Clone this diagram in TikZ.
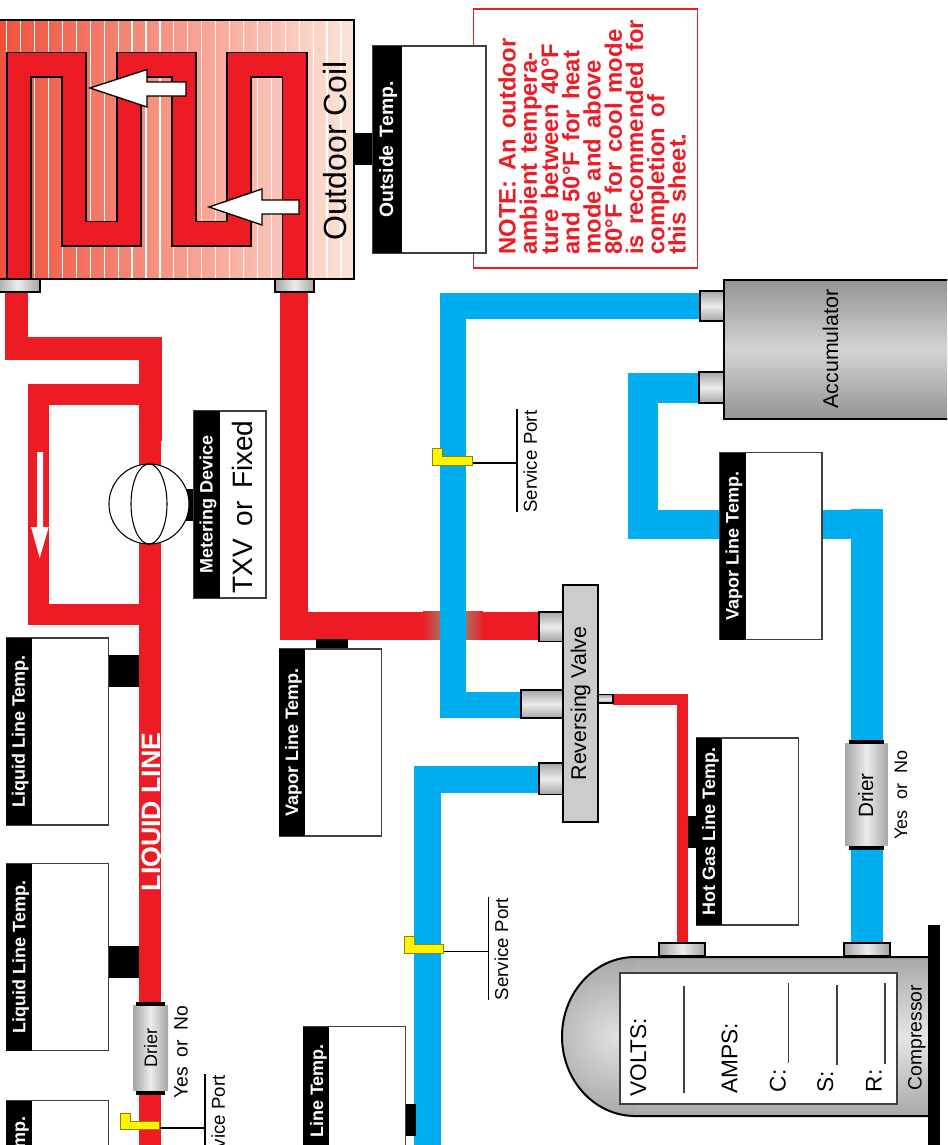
\documentclass[tikz,border=0pt]{standalone}
\usepackage{fontspec}
\setmainfont{Liberation Sans}
\newfontfamily\notefont[WordSpace=1.5]{Liberation Sans}
\definecolor{linered}{RGB}{237,28,36}
\definecolor{lineblue}{RGB}{0,174,239}
\definecolor{portyellow}{RGB}{255,242,0}
\definecolor{coilwarm}{RGB}{240,78,56}
\definecolor{coilcool}{RGB}{252,228,216}
\definecolor{crossfade}{RGB}{170,115,100}
\definecolor{fitedge}{RGB}{165,165,165}
\definecolor{fitmid}{RGB}{236,236,236}
\usetikzlibrary{calc}
\setlength{\lineskiplimit}{-20pt}
\tikzset{
  redpipe/.style={draw=linered, line width=#1*0.75pt},
  bluepipe/.style={draw=lineblue, line width=#1*0.75pt},
  templink/.style={draw=black, line width=24pt},
  tempbox/.style={rectangle, draw=black!75, line width=0.8pt, fill=white, inner sep=0pt, minimum width=76.5pt, minimum height=140.25pt},
  tempstripe/.style={rectangle, rotate=90, fill=black, text=white, inner sep=0pt, anchor=north, minimum height=19.5pt, minimum width=140.25pt, text height=10.5pt, text depth=1.5pt, font=\bfseries\fontsize{13.5}{15}\selectfont},
  templabel/.style={rotate=90, text=white, inner sep=0pt, font=\bfseries\fontsize{13.5}{15}\selectfont},
  fitacross/.style={draw=black, line width=1pt, left color=fitedge, right color=fitedge, middle color=fitmid},
  fitalong/.style={draw=black, line width=1pt, top color=fitedge, bottom color=fitedge, middle color=fitmid},
  flowarrow/.style={draw=black, line width=1pt, fill=white},
  portbody/.style={draw=portyellow!55!black, line width=0.7pt, fill=portyellow},
  portline/.style={draw=black, line width=1.1pt},
  caption/.style={rotate=90, inner sep=0pt, anchor=base},
  readline/.style={draw=black!75, line width=0.8pt},
  endcap/.style={draw=black, line width=3pt}
}

\begin{document}
\begin{tikzpicture}[x=0.75pt, y=-0.75pt, line join=miter]
  \useasboundingbox (0,0) rectangle (947,1145);
  \clip (0,0) rectangle (947,1145);

  % pipe ends
  \coordinate (coilinlet) at (16,285);
  \coordinate (coiloutlet) at (294,285);
  \coordinate (meterin) at (150.5,441);
  \coordinate (liquidend) at (150,1150);
  \coordinate (loopsplit) at (150,394);
  \coordinate (loopjoin) at (150,614);
  \coordinate (valvered) at (540,625.5);
  \coordinate (valvemid) at (522,704.5);
  \coordinate (valvelow) at (540,779);
  \coordinate (valvehot) at (613,699);
  \coordinate (accumout) at (701,305.5);
  \coordinate (accumin) at (700,388);
  \coordinate (suctionturn) at (867,524.5);
  \coordinate (compin) at (867,943);
  \coordinate (compout) at (682,943);

  % red lines
  \draw[redpipe=23] (coilinlet) |- (150.5,348.5) -- (meterin);
  \draw[redpipe=21] (loopsplit) -| (38.5,614) -- (loopjoin);
  \draw[redpipe=22] (150,441) -- (liquidend);
  \draw[redpipe=28] (coiloutlet) |- (valvered);
  \shade[left color=linered, right color=crossfade] (423,611.5) rectangle (441,639.5);
  \shade[left color=crossfade, right color=linered] (465,611.5) rectangle (483,639.5);
  \draw[redpipe=11] (valvehot) -| (compout);

  % blue lines
  \draw[bluepipe=26] (accumout) -| (453,704.5) -- (valvemid);
  \draw[bluepipe=27] (valvelow) -| (427.5,1150);
  \draw[bluepipe=29.5] (accumin) -| (643,524.5) -- (suctionturn);
  \draw[bluepipe=32] (867,509) -- (compin);

  % small arrow on the liquid loop
  \fill[white] (37,452) -- (43,452) -- (43,527) -- (48.7,527) -- (39.7,558) -- (31,527) -- (37,527) -- cycle;

  % outdoor coil
  \draw[line width=1.1pt, left color=coilwarm, right color=coilcool] (-5,20) rectangle (354,279);
  \foreach \fin in {0,...,24}
    \draw[white, line width=0.9pt] ({6.7+13.93*\fin},21) -- ++(0,257);
  \draw[black, line width=19.5pt] (19,279) -- (19,64.7) -- (74,64.7) -- (74,233.5) -- (129,233.5) -- (129,64.7) -- (184,64.7) -- (184,233.5) -- (239,233.5) -- (239,64.7) -- (294.5,64.7) -- (294.5,279);
  \draw[linered, line width=17.2pt] (19,279) -- (19,64.7) -- (74,64.7) -- (74,233.5) -- (129,233.5) -- (129,64.7) -- (184,64.7) -- (184,233.5) -- (239,233.5) -- (239,64.7) -- (294.5,64.7) -- (294.5,279);
  \draw[flowarrow] (90,88) -- (147,69.5) -- (147,82) -- (186,82) -- (186,96) -- (147,96) -- (147,107) -- cycle;
  \draw[flowarrow] (209,207) -- (262,189) -- (262,200) -- (299,200) -- (299,214) -- (262,214) -- (262,225) -- cycle;
  \node[caption, font=\fontsize{24}{26}\selectfont] (coillabel) at (346.7,151) {Outdoor Coil};
  \draw[fitacross] (-5,279) rectangle (40,292);
  \draw[fitacross] (275,279) rectangle (314,292);

  % note
  \draw[linered, line width=1.4pt] (473.5,9) rectangle (697.5,268);
  \node[rotate=90, inner sep=0pt, anchor=north west, align=left, text=linered, font=\notefont\bfseries\fontsize{17.9}{15.94}\selectfont] (notetext) at (498,255) {NOTE: An outdoor\\ambient tempera-\\ture between 40°F\\and 50°F for heat\\mode and above\\80°F for cool mode\\is recommended for\\completion of\\this sheet.};

  % outside temp
  \node[tempbox, minimum width=84.75pt, minimum height=155.25pt] (outsidebox) at (429.5,149.5) {};
  \node[tempstripe, minimum height=21.75pt, minimum width=155.25pt, font=\bfseries\fontsize{14.5}{15}\selectfont] (outsidestripe) at (outsidebox.west) {Outside\hspace{.15em} Temp.};
  \coordinate (coilside) at (354,149);
  \draw[templink] (coilside) -- (coilside -| outsidebox.west);

  % metering device
  \coordinate (metertap) at (180,505);
  \node[tempbox, minimum width=54pt] (meterbox) at (230,504.5) {};
  \node[tempstripe] (meterstripe) at (meterbox.west) {Metering Device};
  \draw[templink] (metertap) -- (metertap -| meterbox.west);
  \node[circle, draw=black, line width=0.8pt, fill=white, inner sep=0pt, minimum size=60pt] (meter) at (149,504) {};
  \draw[black, line width=0.8pt] (meter.center) ellipse [x radius=18, y radius=40];
  \node[caption, font=\fontsize{21}{23}\selectfont] (metertype) at (252.7,507) {TXV\hspace{.45em}or\hspace{.45em}Fixed};

  % liquid line
  \node[tempbox] (liquidboxa) at (57.25,731.5) {};
  \node[tempstripe] (liquidstripea) at (liquidboxa.west) {Liquid Line Temp.};
  \coordinate (liquidtapa) at (139,670.5);
  \draw[templink] (liquidtapa) -- (liquidtapa -| liquidboxa.east);
  \node[tempbox] (liquidboxb) at (57.7,957) {};
  \node[tempstripe] (liquidstripeb) at (liquidboxb.west) {Liquid Line Temp.};
  \coordinate (liquidtapb) at (139,962.3);
  \draw[templink] (liquidtapb) -- (liquidtapb -| liquidboxb.east);
  \node[tempbox] (liquidboxc) at (57.7,1194) {};
  \node[tempstripe] (liquidstripec) at (liquidboxc.west) {};
  \node[templabel, anchor=base east] (liquidlabelc) at (25,1116.7) {mp.};
  \node[caption, text=white, font=\bfseries\fontsize{20}{22}\selectfont] (liquidname) at (160,812) {LIQUID LINE};

  % liquid drier
  \draw[fitacross, draw=none] (133,1005.7) rectangle (168,1090.7);
  \draw[endcap] (136,1004.3) -- (165,1004.3);
  \draw[endcap] (136,1092.7) -- (165,1092.7);
  \node[caption, font=\fontsize{13.5}{15}\selectfont] (drierleft) at (157,1048) {Drier};
  \node[caption, font=\fontsize{14.5}{16}\selectfont] (optionleft) at (187.6,1052) {Yes\hspace{.5em}or\hspace{.5em}No};

  % service ports
  \coordinate (portastem) at (159.6,1128);
  \coordinate (portabar) at (205,1128);
  \draw[portline] (portastem) -- (portabar);
  \draw[portline] (205,1074) -- (205,1150);
  \draw[portbody] (120.7,1113) -- (130,1113) -- (130,1121) -- (159.6,1121) -- (159.6,1129) -- (120.7,1129) -- cycle;
  \node[caption, anchor=base east, font=\fontsize{14}{16}\selectfont] (portatext) at (224.8,1075) {vice\hspace{.3em}Port};

  \coordinate (portbstem) at (443.5,951.7);
  \coordinate (portbbar) at (488.5,951.7);
  \draw[portline] (portbstem) -- (portbbar);
  \draw[portline] (488.5,897) -- (488.5,1000);
  \draw[portbody] (404,936.7) -- (414,936.7) -- (414,944.3) -- (443.5,944.3) -- (443.5,953.3) -- (404,953.3) -- cycle;
  \node[caption, font=\fontsize{14}{16}\selectfont] (portbtext) at (508,949) {Service\hspace{.3em}Port};

  \coordinate (portcstem) at (472,463);
  \coordinate (portcbar) at (517,463);
  \draw[portline] (portcstem) -- (portcbar);
  \draw[portline] (517,409) -- (517,512);
  \draw[portbody] (432.4,448) -- (442,448) -- (442,456) -- (472,456) -- (472,465) -- (432.4,465) -- cycle;
  \node[caption, font=\fontsize{14}{16}\selectfont] (portctext) at (536.8,461.7) {Service\hspace{.3em}Port};

  % vapor line boxes
  \node[tempbox] (vaporboxa) at (330.3,742.5) {};
  \node[tempstripe] (vaporstripea) at (vaporboxa.west) {Vapor Line Temp.};
  \coordinate (vaportapa) at (332,639);
  \draw[templink] (vaportapa) -- (vaportapa |- vaporboxa.north);
  \node[tempbox] (vaporboxb) at (354.6,1120) {};
  \node[tempstripe] (vaporstripeb) at (vaporboxb.west) {};
  \node[templabel, anchor=base east] (vaporlabelb) at (323,1044) {Line Temp.};
  \coordinate (vaportapb) at (415.5,1119.7);
  \draw[templink] (vaportapb) -- (vaportapb -| vaporboxb.east);
  \node[tempbox] (vaporboxc) at (771,546) {};
  \node[tempstripe] (vaporstripec) at (vaporboxc.west) {Vapor Line Temp.};

  % accumulator
  \draw[fitalong] (700,291) rectangle (724,321);
  \draw[fitalong] (699,372) rectangle (724,403);
  \draw[black, line width=1.5pt, top color=black!42, bottom color=black!42, middle color=black!17] (724,280) rectangle (960,419);
  \node[caption, font=\fontsize{16}{18}\selectfont] (accumlabel) at (838,349) {Accumulator};

  % reversing valve
  \draw[fitalong] (539,612) rectangle (563,641.5);
  \draw[fitalong] (521,690) rectangle (563,718);
  \draw[fitalong] (539,763) rectangle (563,794.5);
  \draw[fitalong] (597.7,694.7) rectangle (613,703);
  \node[rectangle, rotate=90, draw=black, line width=1.5pt, fill=black!20, inner sep=0pt, minimum width=177.75pt, minimum height=26pt, font=\fontsize{16}{18}\selectfont] (valve) at (580.5,703.4) {Reversing Valve};

  % hot gas
  \node[tempbox] (hotbox) at (747.3,831.5) {};
  \node[tempstripe] (hotstripe) at (hotbox.west) {Hot Gas Line Temp.};
  \coordinate (hottap) at (687.7,831.6);
  \draw[templink] (hottap) -- (hottap -| hotbox.west);

  % suction drier
  \draw[fitacross, draw=none] (845,743.5) rectangle (887.7,845.8);
  \draw[endcap] (849,741.8) -- (884,741.8);
  \draw[endcap] (849,848) -- (884,848);
  \node[caption, font=\fontsize{15.5}{17}\selectfont] (drierright) at (873,795.5) {Drier};
  \node[caption, font=\fontsize{13.5}{15}\selectfont] (optionright) at (907,795) {Yes\hspace{.6em}or\hspace{.6em}No};

  % compressor
  \begin{scope}
    \clip (940,957) -- (635,957) arc [start angle=-90, delta angle=-180, x radius=73, y radius=79.5] -- (940,1116) -- cycle;
    \shade[inner color=black!12, outer color=black!36] (615,1037) circle [radius=85];
    \shade[top color=black!34, bottom color=black!34, middle color=black!10] (635,957) rectangle (940,1116);
  \end{scope}
  \draw[black, line width=1.5pt] (928,957) -- (635,957) arc [start angle=-90, delta angle=-180, x radius=73, y radius=79.5] -- (928,1116);
  \fill[black] (928,925) rectangle (940,1150);
  \draw[fitacross, line width=1.5pt] (659,943) rectangle (705,956);
  \draw[fitacross, line width=1.5pt] (844,943) rectangle (890,956);
  \draw[draw=black!75, line width=0.8pt, fill=white] (620,973) rectangle (897,1104);
  \node[caption, anchor=base west, font=\fontsize{17}{19}\selectfont] (volts) at (646,1097) {VOLTS:};
  \node[caption, anchor=base west, font=\fontsize{17}{19}\selectfont] (amps) at (737.3,1093.6) {AMPS:};
  \node[caption, anchor=base west, font=\fontsize{17}{19}\selectfont] (ampc) at (785.7,1092.6) {C:};
  \node[caption, anchor=base west, font=\fontsize{17}{19}\selectfont] (amps2) at (833,1092.6) {S:};
  \node[caption, anchor=base west, font=\fontsize{17}{19}\selectfont] (ampr) at (881.7,1092.6) {R:};
  \draw[readline] (684,985.5) -- (684,1092.6);
  \draw[readline] (788.7,983) -- (788.7,1063);
  \draw[readline] (837,985) -- (837,1065);
  \draw[readline] (885,983) -- (885,1064);
  \node[caption, font=\fontsize{14.5}{16}\selectfont] (complabel) at (921.7,1037.5) {Compressor};
\end{tikzpicture}
\end{document}
